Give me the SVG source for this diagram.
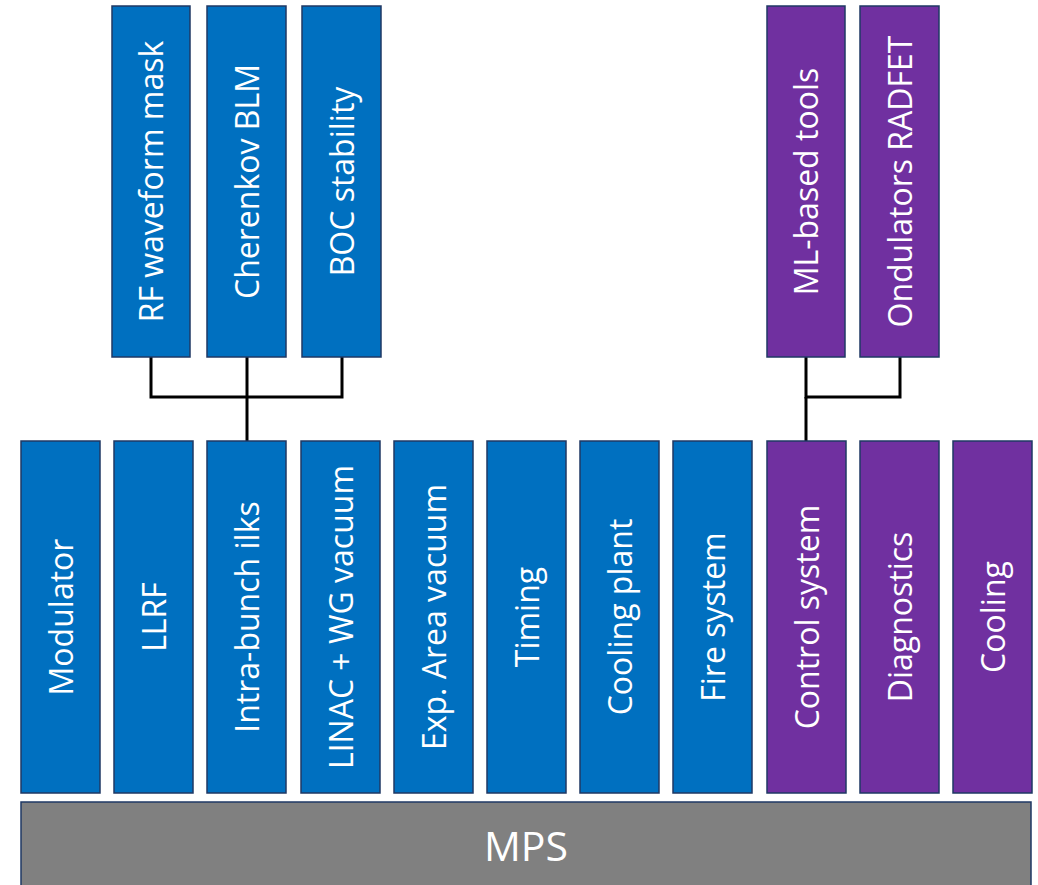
<svg xmlns="http://www.w3.org/2000/svg" width="1038" height="885" viewBox="0 0 1038 885">
<style>
.b{fill:#0070C0;stroke:#1F3864;stroke-width:1.5}
.p{fill:#7030A0;stroke:#1F3864;stroke-width:1.5}
.g{fill:#808080;stroke:#1F3864;stroke-width:1.5}
text{fill:#FFFFFF;font-family:"Open Sans","Noto Sans","Liberation Sans",sans-serif;font-size:32px;text-anchor:middle}
.c{fill:none;stroke:#000000;stroke-width:3}
</style>
<rect width="1038" height="885" fill="#FFFFFF"/>
<g id="connectors">
<polyline class="c" points="151,357 151,397 342,397 342,357"/>
<line class="c" x1="247" y1="357" x2="247" y2="441"/>
<polyline class="c" points="806,357 806,397 900,397 900,357"/>
<line class="c" x1="806" y1="397" x2="806" y2="441"/>
</g>
<g id="n-rf"><rect class="b" x="112" y="6" width="78" height="351"/><text transform="translate(163,181.5) rotate(-90)">RF waveform mask</text></g>
<g id="n-cherenkov"><rect class="b" x="207" y="6" width="79" height="351"/><text transform="translate(258.5,181.5) rotate(-90)">Cherenkov BLM</text></g>
<g id="n-boc"><rect class="b" x="302" y="6" width="79" height="351"/><text transform="translate(353.5,181.5) rotate(-90)">BOC stability</text></g>
<g id="n-ml"><rect class="p" x="767" y="6" width="78" height="351"/><text transform="translate(818,181.5) rotate(-90)">ML-based tools</text></g>
<g id="n-ond"><rect class="p" x="860" y="6" width="79" height="351"/><text transform="translate(911.5,181.5) rotate(-90)">Ondulators RADFET</text></g>
<g id="n-modulator"><rect class="b" x="21" y="441" width="79" height="352"/><text transform="translate(72.5,617) rotate(-90)">Modulator</text></g>
<g id="n-llrf"><rect class="b" x="114" y="441" width="79" height="352"/><text transform="translate(165.5,617) rotate(-90)">LLRF</text></g>
<g id="n-intra"><rect class="b" x="207" y="441" width="79" height="352"/><text transform="translate(258.5,617) rotate(-90)">Intra-bunch ilks</text></g>
<g id="n-linac"><rect class="b" x="301" y="441" width="79" height="352"/><text transform="translate(352.5,617) rotate(-90)">LINAC + WG vacuum</text></g>
<g id="n-exp"><rect class="b" x="394" y="441" width="79" height="352"/><text transform="translate(445.5,617) rotate(-90)">Exp. Area vacuum</text></g>
<g id="n-timing"><rect class="b" x="487" y="441" width="79" height="352"/><text transform="translate(538.5,617) rotate(-90)">Timing</text></g>
<g id="n-coolplant"><rect class="b" x="580" y="441" width="79" height="352"/><text transform="translate(631.5,617) rotate(-90)">Cooling plant</text></g>
<g id="n-fire"><rect class="b" x="673" y="441" width="79" height="352"/><text transform="translate(724.5,617) rotate(-90)">Fire system</text></g>
<g id="n-control"><rect class="p" x="767" y="441" width="79" height="352"/><text transform="translate(818.5,617) rotate(-90)">Control system</text></g>
<g id="n-diag"><rect class="p" x="860" y="441" width="79" height="352"/><text transform="translate(911.5,617) rotate(-90)">Diagnostics</text></g>
<g id="n-cooling"><rect class="p" x="953" y="441" width="79" height="352"/><text transform="translate(1004.5,617) rotate(-90)">Cooling</text></g>
<g id="n-mps"><rect class="g" x="21" y="802" width="1010" height="90"/><text x="526" y="861" style="font-size:41px">MPS</text></g>
</svg>
